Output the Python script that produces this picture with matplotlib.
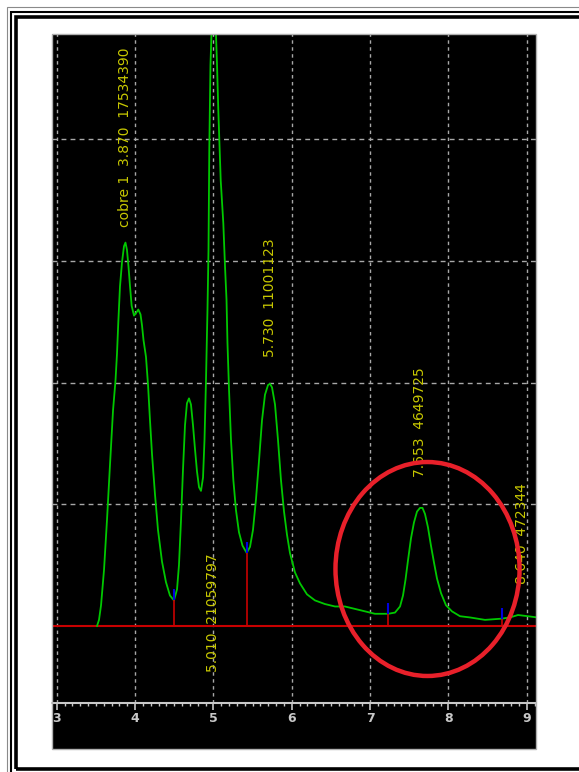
import matplotlib
matplotlib.use("Agg")
import matplotlib.pyplot as plt
from matplotlib.patches import Ellipse, Rectangle
from matplotlib.ticker import MultipleLocator

# detector trace (retention time, signal)
rt = [3.515, 3.540, 3.566, 3.604, 3.642, 3.680, 3.719, 3.751, 3.770, 3.786,
      3.808, 3.834, 3.859, 3.878, 3.897, 3.917, 3.936, 3.957, 3.987, 4.012,
      4.042, 4.070, 4.089, 4.108, 4.140, 4.166, 4.191, 4.217, 4.255, 4.293,
      4.344, 4.395, 4.446, 4.497, 4.536, 4.561, 4.587, 4.612, 4.638, 4.663,
      4.689, 4.714, 4.740, 4.766, 4.791, 4.817, 4.842, 4.868, 4.887, 4.906,
      4.925, 4.938, 4.948, 4.963, 4.982, 5.010, 5.027, 5.046, 5.063, 5.094,
      5.127, 5.149, 5.168, 5.180, 5.200, 5.225, 5.255, 5.289, 5.327, 5.372,
      5.426, 5.468, 5.506, 5.544, 5.583, 5.621, 5.659, 5.698, 5.723, 5.749,
      5.787, 5.825, 5.863, 5.902, 5.940, 5.978, 6.042, 6.106, 6.195, 6.297,
      6.425, 6.553, 6.680, 6.808, 6.936, 7.063, 7.233, 7.319, 7.383, 7.421,
      7.453, 7.485, 7.523, 7.561, 7.600, 7.638, 7.670, 7.702, 7.740, 7.778,
      7.817, 7.855, 7.906, 7.970, 8.046, 8.149, 8.276, 8.468, 8.681, 8.787,
      8.889, 9.017, 9.132]
signal = [0.00, 0.05, 0.17, 0.46, 0.87, 1.32, 1.77, 2.02, 2.24, 2.49,
          2.79, 2.99, 3.12, 3.15, 3.09, 2.95, 2.79, 2.63, 2.55, 2.57,
          2.60, 2.56, 2.47, 2.35, 2.21, 1.98, 1.69, 1.41, 1.08, 0.79,
          0.53, 0.36, 0.25, 0.21, 0.30, 0.50, 0.87, 1.28, 1.65, 1.83,
          1.87, 1.82, 1.65, 1.45, 1.27, 1.14, 1.11, 1.22, 1.53, 2.02,
          2.60, 3.09, 3.91, 4.61, 4.98, 5.14, 4.98, 4.63, 4.24, 3.66,
          3.31, 2.95, 2.68, 2.33, 1.94, 1.53, 1.20, 0.95, 0.77, 0.66,
          0.60, 0.65, 0.79, 1.04, 1.36, 1.69, 1.90, 1.98, 1.99, 1.96,
          1.82, 1.53, 1.20, 0.94, 0.75, 0.60, 0.44, 0.35, 0.26, 0.21,
          0.18, 0.16, 0.16, 0.14, 0.12, 0.10, 0.10, 0.11, 0.16, 0.25,
          0.38, 0.54, 0.72, 0.85, 0.94, 0.97, 0.97, 0.92, 0.81, 0.66,
          0.52, 0.39, 0.27, 0.17, 0.12, 0.08, 0.07, 0.05, 0.06, 0.07,
          0.09, 0.08, 0.07]

# integration boundaries (drop lines)
drop_x = [4.497, 5.426, 7.233, 8.681]
drop_y = [0.21, 0.60, 0.10, 0.06]

# peak annotations
peak_labels = ["cobre 1  3.870  17534390", "5.730  11001123", "5.010  21059797",
               "7.653  4649725", "8.640  472344"]
label_x = [3.872, 5.723, 5.000, 7.638, 8.936]
label_y = [3.28, 2.21, -0.378, 1.22, 0.345]

grid_x = [3, 4, 5, 6, 7, 8, 9]
grid_y = [1, 2, 3, 4]
ruler_y = -0.633

W, H = 579, 772
fig = plt.figure(figsize=(W / 100, H / 100), dpi=100)
fig.patch.set_facecolor("white")

# page frame
fig.add_artist(Rectangle((7 / W, -0.1), 2, 1 - 7 / H + 0.1, transform=fig.transFigure,
                         fill=False, ec="#8a8a8a", lw=0.8))
fig.add_artist(Rectangle((11 / W, -0.1), 2, 1 - 12 / H + 0.1, transform=fig.transFigure,
                         fill=False, ec="black", lw=1.5))
fig.add_artist(Rectangle((15.5 / W, 1 - 768.5 / H), 2, (768.5 - 16.5) / H,
                         transform=fig.transFigure, fill=False, ec="black", lw=2.6))

ax = fig.add_axes([52 / W, 1 - 749 / H, (536 - 52) / W, (749 - 34) / H])
ax.set_facecolor("black")
ax.set_xlim(2.94, 9.119)
ax.set_ylim(-1.011, 4.864)

# dashed grid, verticals stop at the time ruler
ax.vlines(grid_x, ruler_y, 4.864, colors="#a8a8a8", lw=1.0,
          linestyles=(0, (2.5, 2.5)), zorder=1)
ax.hlines(grid_y, 2.94, 9.119, colors="#a8a8a8", lw=1.0,
          linestyles=(0, (3.5, 3)), zorder=1)

# time ruler
for side in ["top", "left", "right"]:
    ax.spines[side].set_visible(False)
ax.spines["bottom"].set_position(("data", ruler_y))
ax.spines["bottom"].set_color("#c8c8c8")
ax.spines["bottom"].set_linewidth(1.5)
ax.xaxis.set_major_locator(MultipleLocator(1))
ax.xaxis.set_minor_locator(MultipleLocator(0.1))
ax.tick_params(axis="x", which="major", colors="#c8c8c8", length=5, width=1.2,
               pad=1.5, labelsize=9)
ax.tick_params(axis="x", which="minor", colors="#c8c8c8", length=2.5, width=1)
for lab in ax.get_xticklabels():
    lab.set_fontweight("bold")
ax.set_yticks([])
ax.add_patch(Rectangle((0, 0), 1, 1, transform=ax.transAxes, fill=False,
                       ec="#b0b0b0", lw=1.0, clip_on=False, zorder=20))

# baseline, trace and integration marks
ax.axhline(0, color="#c80000", lw=1.5, zorder=2)
ax.plot(rt, signal, color="#00c800", lw=1.3, zorder=3)
ax.vlines(drop_x, 0, drop_y, colors="#c80000", lw=1.2, zorder=4)
ax.vlines(drop_x, drop_y, [v + 0.09 for v in drop_y], colors="#0000e0", lw=1.5, zorder=5)

for txt, x, y in zip(peak_labels, label_x, label_y):
    ax.text(x, y, txt, rotation=90, ha="center", va="bottom", color="#c8c800",
            fontsize=10, zorder=6)

ax.add_patch(Ellipse((7.734, 0.468), 2.35, 1.758, fill=False, ec="#e8202a",
                     lw=3.2, zorder=10))

fig.savefig("out.png", dpi=100)
